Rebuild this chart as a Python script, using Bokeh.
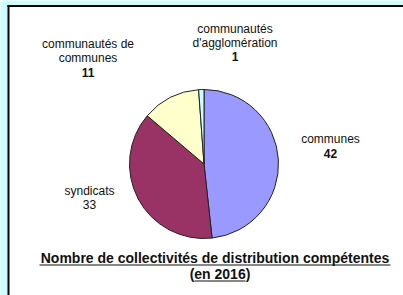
import math
from bokeh.plotting import figure
from bokeh.models import Range1d, ColumnDataSource
from bokeh.core.properties import value
from bokeh.embed import file_html
from bokeh.resources import INLINE

# Data
categories = ["communes", "syndicats", "communautés de communes", "communautés d'agglomération"]
counts = [42, 33, 11, 1]
colors = ["#9999FF", "#993366", "#FFFFCC", "#CCFFFF"]
title_lines = ["Nombre de collectivités de distribution compétentes", "(en 2016)"]

W, H = 403, 295
p = figure(width=W, height=H, output_backend="svg", toolbar_location=None,
           x_range=Range1d(0, W), y_range=Range1d(0, H), min_border=0)
p.axis.visible = False
p.grid.visible = False
p.outline_line_color = None
p.background_fill_color = "#CCFFFF"
p.border_fill_color = "#CCFFFF"

def px(x):
    return x

def py(y):
    return H - y

# white panel with black frame (left and top)
p.quad(left=[px(8)], right=[px(W + 5)], top=[py(5)], bottom=[py(H + 5)],
       fill_color="white", line_color=None)
p.segment(x0=[px(8)], y0=[py(4.5)], x1=[px(8)], y1=[py(H + 5)], line_color="black", line_width=2)
p.segment(x0=[px(7)], y0=[py(5.5)], x1=[px(W + 5)], y1=[py(5.5)], line_color="black", line_width=2)

# pie
total = sum(counts)
starts, ends = [], []
acc = 0.0
for c in counts:
    a0 = math.pi / 2 - 2 * math.pi * acc / total
    acc += c
    a1 = math.pi / 2 - 2 * math.pi * acc / total
    starts.append(a1)
    ends.append(a0)
src = ColumnDataSource(dict(start=starts, end=ends, color=colors))
p.wedge(x=px(203.5), y=py(163.5), radius=74.5, start_angle="start", end_angle="end",
        fill_color="color", line_color="#222222", line_width=1, source=src)

font = value("Liberation Sans")

def label(lines, bold_last, cx, ys):
    for i, (t, y) in enumerate(zip(lines, ys)):
        is_last = i == len(lines) - 1
        style = "bold" if (is_last and bold_last) else "normal"
        p.text(x=[px(cx)], y=[py(y)], text=[t], text_font=font, text_font_size="12px",
               text_font_style=style, text_align="center", text_baseline="middle",
               text_color="#111111")

label(["communautés de", "communes", str(counts[2])], True, 87.5, [43.5, 57.5, 71.5])
label(["communautés", "d'agglomération", str(counts[3])], True, 234.5, [28, 42, 55.5])
label(["communes", str(counts[0])], True, 330, [138, 152.5])
label(["syndicats", str(counts[1])], False, 89, [190, 204])

# title
p.text(x=[px(214.5)], y=[py(257.5)], text=[title_lines[0]], text_font=font, text_font_size="14px",
       text_font_style="bold", text_align="center", text_baseline="middle", text_color="#111111")
p.text(x=[px(219.5)], y=[py(273.5)], text=[title_lines[1]], text_font=font, text_font_size="14px",
       text_font_style="bold", text_align="center", text_baseline="middle", text_color="#111111")
p.segment(x0=[px(39)], y0=[py(264.5)], x1=[px(390)], y1=[py(264.5)], line_color="#111111", line_width=1)
p.segment(x0=[px(194)], y0=[py(280.5)], x1=[px(245)], y1=[py(280.5)], line_color="#111111", line_width=1)

open("out.html", "w").write(file_html(p, INLINE))
